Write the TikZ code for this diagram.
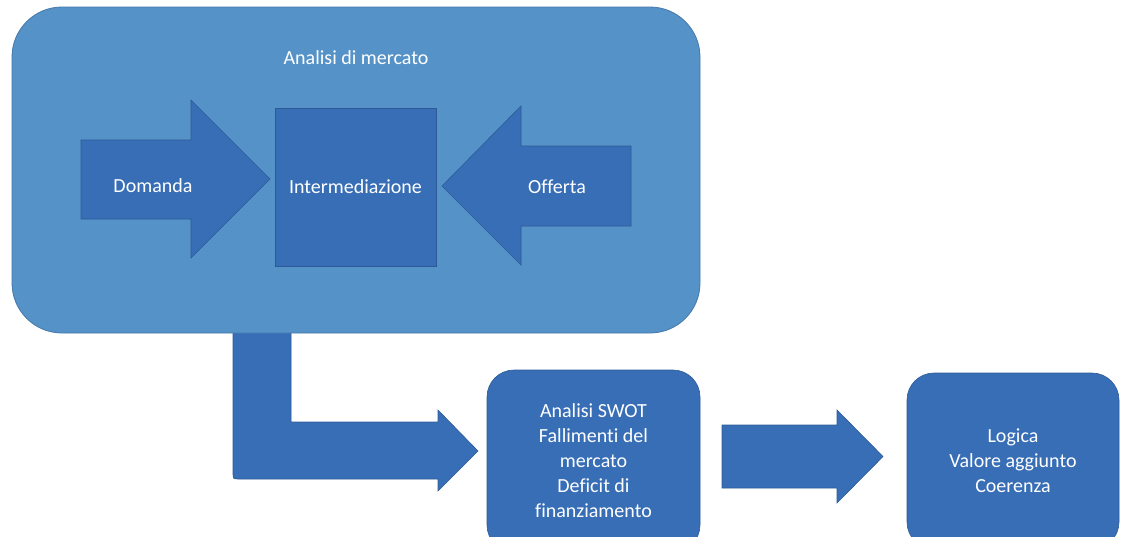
\documentclass[tikz,border=0pt]{standalone}
\usepackage{fontspec}
\setmainfont[Ligatures=NoCommon]{Carlito}
\begin{document}
\begin{tikzpicture}[x=1pt,y=-1pt,
  outerfill/.style={fill=outerblue,draw=outeredge,line width=0.8pt},
  shapefill/.style={fill=innerblue,draw=inneredge,line width=0.6pt},
  lbl/.style={text=white,font=\fontsize{20}{25}\selectfont,align=center,inner sep=0pt},
  roundbox/.style={shapefill,rounded corners=27pt,inner sep=0pt}]
\definecolor{outerblue}{RGB}{85,146,199}
\definecolor{outeredge}{RGB}{70,120,170}
\definecolor{innerblue}{RGB}{55,110,182}
\definecolor{inneredge}{RGB}{45,90,150}
\useasboundingbox (0,0) rectangle (1122,536);

% bent arrow running from under the market box to the SWOT box
\coordinate (bentA) at (233,300);
\coordinate (bentTip) at (478,451);
\path[shapefill] (bentA) -- (291,300) -- (291,422) -- (438,422) -- (438,410)
  -- (bentTip) -- (438,491) -- (438,479) -- (239,479)
  .. controls (233,479) .. (233,473) -- cycle;

% market analysis container
\node[outerfill,rounded corners=50pt,minimum width=688pt,minimum height=326pt,inner sep=0pt]
  (mercato) at (356,170) {};
\node[lbl] (titolo) at (356,58) {Analisi di mercato};

% demand arrow
\coordinate (domTip) at (270,179);
\path[shapefill] (81,140) -- (191,140) -- (191,100) -- (domTip) -- (191,258)
  -- (191,219) -- (81,219) -- cycle;
\node[lbl] (domanda) at (153,186) {Domanda};

% intermediation box
\node[shapefill,minimum width=161pt,minimum height=158pt,inner sep=0pt]
  (interm) at (355.5,187) {};
\node[lbl] (intermtxt) at (interm) {Intermediazione};

% supply arrow
\coordinate (offTip) at (442,186);
\path[shapefill] (631,146) -- (521,146) -- (521,106) -- (offTip) -- (521,265)
  -- (521,226) -- (631,226) -- cycle;
\node[lbl] (offerta) at (557,187) {Offerta};

% SWOT box
\node[roundbox,minimum width=213pt,minimum height=182pt] (swot) at (593.5,461) {};
\node[lbl] (swottxt) at (swot) {Analisi SWOT\\Fallimenti del\\mercato\\Deficit di\\finanziamento};

% arrow between the two lower boxes
\coordinate (midTip) at (883,456.5);
\path[shapefill] (722,425) -- (837,425) -- (837,410) -- (midTip) -- (837,503)
  -- (837,488) -- (722,488) -- cycle;

% logic box
\node[roundbox,minimum width=212pt,minimum height=176pt] (logica) at (1013,461) {};
\node[lbl] (logicatxt) at (logica) {Logica\\Valore aggiunto\\Coerenza};
\end{tikzpicture}
\end{document}
